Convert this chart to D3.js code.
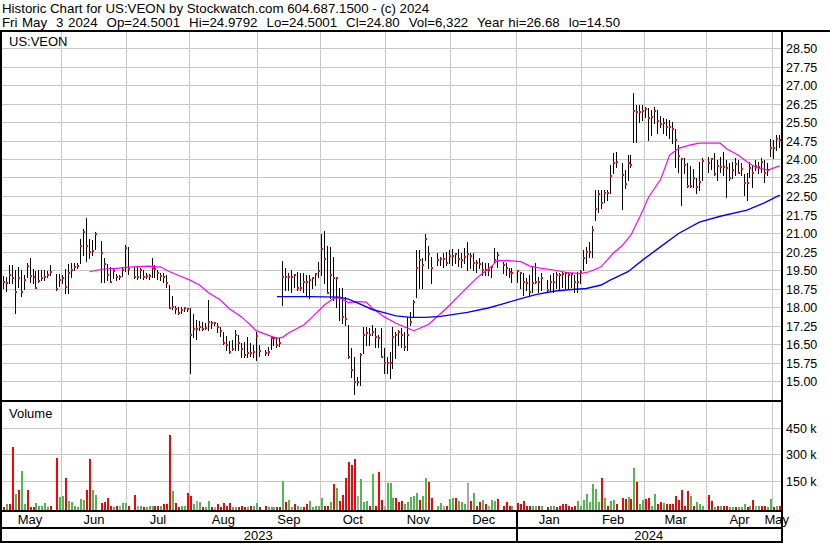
<!DOCTYPE html>
<html><head><meta charset="utf-8">
<script src="https://cdn.jsdelivr.net/npm/d3@7"></script>
<style>
html,body{margin:0;padding:0;background:#fff;}
svg{display:block;font-family:"Liberation Sans",Arial,sans-serif;}
</style></head><body>
<svg id="chart" width="830" height="543"></svg>
<script>
// ---------------- DATA ----------------
const HEADER1 = "Historic Chart for US:VEON by Stockwatch.com 604.687.1500 - (c) 2024";
const HEADER2 = "Fri May  3 2024  Op=24.5001  Hi=24.9792  Lo=24.5001  Cl=24.80  Vol=6,322  Year hi=26.68  lo=14.50";
const SYMBOL = "US:VEON";
const START = "2023-05-03", END = "2024-05-03";
const HOLIDAYS = ["2023-05-29","2023-06-19","2023-07-04","2023-09-04","2023-11-23","2023-12-25","2024-01-01","2024-01-15","2024-02-19","2024-03-29"];
const MONTH_NAMES = ["Jan","Feb","Mar","Apr","May","Jun","Jul","Aug","Sep","Oct","Nov","Dec"];
const PRICE_TICKS = ["15.00","15.75","16.50","17.25","18.00","18.75","19.50","20.25","21.00","21.75","22.50","23.25","24.00","24.75","25.50","26.25","27.00","27.75","28.50"];
const VOL_TICKS = [150, 300, 450];            // thousands
const VOL_TICK_LABELS = ["150 k","300 k","450 k"];

const HIGH = [
 19.30,19.28,19.25,19.72,19.72,19.52,19.66,19.52,19.32,19.79,20.01,19.57,19.48,19.52,19.52,19.52,19.49,19.71,19.36,19.36,
 19.32,19.56,19.75,19.79,19.79,19.82,20.78,21.18,21.61,20.78,20.74,21.05,20.71,20.00,19.75,19.66,19.59,19.36,19.32,19.66,20.53,
 20.44,19.66,19.66,19.59,19.52,19.39,19.36,20.00,19.72,19.52,19.39,19.39,19.30,18.90,18.45,18.07,18.03,18.03,18.00,17.99,
 17.97,17.74,17.49,17.47,17.43,17.36,18.30,17.47,17.43,17.36,17.22,17.02,16.84,16.64,16.68,17.09,16.88,16.55,16.61,16.79,16.55,16.48,17.00,
 16.50,16.28,16.41,16.85,16.80,16.80,16.75,19.90,19.59,19.40,19.52,19.32,19.45,19.39,19.40,19.30,19.30,19.25,19.38,19.86,
 21.00,21.10,20.50,20.47,20.06,19.25,18.78,18.78,18.44,17.29,16.34,16.01,15.20,16.14,17.22,17.20,17.16,17.29,17.16,16.88,17.16,16.34,
 16.01,16.21,17.22,17.02,17.09,17.16,17.02,17.63,17.83,18.30,20.33,20.33,20.00,21.00,20.50,20.06,20.20,20.06,20.20,20.26,20.33,
 20.36,20.20,20.36,20.20,20.40,20.67,20.20,20.20,19.93,19.99,19.86,19.79,19.79,19.70,20.40,20.26,19.86,19.79,19.59,19.59,
 19.52,19.45,19.39,19.18,19.32,19.65,19.79,19.25,19.39,19.12,19.32,19.39,19.45,19.39,19.45,19.45,19.41,19.40,19.32,19.45,19.52,
 20.33,20.47,20.67,21.30,22.76,22.76,22.76,22.76,22.76,23.78,24.25,24.32,23.85,23.57,24.18,24.18,26.68,26.21,26.21,26.21,
 26.14,26.07,26.00,26.14,26.00,25.76,25.67,25.63,25.60,25.53,25.22,24.59,24.05,24.05,23.85,23.74,23.60,23.24,23.91,24.05,
 24.12,24.05,24.25,23.98,24.12,24.32,23.98,23.85,23.91,24.05,23.98,23.85,23.40,23.44,23.91,23.78,23.98,23.91,24.05,23.98,23.85,24.82,
 24.79,24.98,24.98
];
const LOW = [
 18.90,18.78,18.68,19.01,19.01,17.79,18.82,18.48,18.74,19.25,19.05,19.01,18.78,19.02,19.12,19.12,19.22,19.32,18.71,18.87,
 18.98,18.60,18.60,19.25,19.52,19.59,19.82,20.13,19.89,20.00,20.13,20.39,19.02,19.05,19.12,19.05,19.18,19.12,19.14,19.28,19.49,
 19.36,19.18,19.16,19.21,19.16,19.18,19.17,19.25,19.25,19.14,19.12,19.05,18.85,17.96,17.94,17.79,17.72,17.76,17.85,17.85,
 15.33,16.82,16.71,17.09,17.09,17.12,17.09,17.16,17.29,17.02,16.84,16.52,16.28,16.14,16.28,16.28,16.28,16.01,16.01,16.01,16.03,16.01,15.87,
 16.03,16.08,16.08,16.30,16.50,16.40,16.45,18.10,18.71,18.71,18.64,18.84,18.71,18.71,18.64,18.50,18.40,18.78,18.90,19.25,
 19.32,19.00,18.57,18.37,18.30,18.03,17.49,17.36,17.29,15.94,15.20,14.50,14.86,14.86,16.14,16.48,16.48,16.88,16.41,16.41,16.01,15.33,
 15.33,15.13,15.53,15.94,16.48,16.41,16.28,16.28,17.30,17.63,18.44,18.78,18.78,19.93,19.59,19.00,19.72,19.72,19.65,19.72,19.79,
 19.72,19.79,19.68,19.65,19.79,19.52,19.59,19.52,19.45,19.59,19.32,19.32,19.32,19.25,19.79,19.65,19.38,19.32,19.25,19.05,
 19.05,18.78,18.51,18.71,18.51,18.64,19.00,18.64,18.71,18.64,18.71,18.64,18.78,18.71,18.84,18.78,18.74,18.84,18.64,18.64,18.98,
 19.52,19.79,20.06,20.06,21.55,21.89,22.02,22.29,22.36,22.63,23.44,23.71,21.98,22.83,23.17,23.71,24.72,24.72,25.53,25.60,
 25.74,24.79,24.99,25.47,25.06,25.33,25.06,24.99,24.86,24.66,23.71,23.51,22.16,23.44,22.90,22.90,22.90,22.63,22.77,23.17,
 23.50,23.61,23.37,23.17,23.51,23.37,22.50,23.17,23.24,23.37,23.44,23.37,22.56,22.36,23.30,22.90,23.58,23.44,23.51,23.10,23.37,24.14,
 24.07,24.38,24.50
];
const CLOSE = [
 19.10,19.05,19.01,19.32,19.21,18.64,19.21,18.64,19.12,19.68,19.28,19.22,18.80,19.09,19.21,19.25,19.32,19.44,18.75,19.12,
 19.21,18.85,19.41,19.52,19.66,19.68,20.51,21.07,20.51,20.26,20.30,20.99,20.22,19.75,19.33,19.05,19.49,19.25,19.25,19.52,20.43,
 19.55,19.25,19.25,19.52,19.25,19.29,19.29,19.61,19.55,19.39,19.28,19.25,19.00,17.99,18.03,17.93,17.76,17.90,17.96,17.93,
 16.88,17.13,17.13,17.20,17.13,17.15,17.43,17.39,17.39,17.22,17.05,16.57,16.50,16.21,16.33,16.88,16.57,16.30,16.07,16.17,16.17,16.21,16.84,
 16.25,16.17,16.21,16.75,16.75,16.48,16.57,19.25,19.25,19.25,19.25,19.32,18.78,18.80,19.02,19.05,19.11,19.18,19.34,19.49,
 20.36,19.97,18.60,19.32,19.18,19.18,18.40,17.60,17.53,16.01,15.47,14.99,14.99,16.07,16.88,16.98,16.88,17.00,16.79,16.75,16.01,15.74,
 15.74,15.74,16.82,16.88,17.02,16.88,16.41,16.88,17.43,18.24,19.59,19.92,19.72,20.78,20.15,19.61,19.92,19.95,19.97,19.82,20.09,
 20.09,20.15,19.95,19.92,20.06,20.15,20.09,19.79,19.79,19.75,19.52,19.52,19.52,19.63,19.92,20.13,19.72,19.59,19.45,19.39,
 19.48,19.39,19.02,18.98,18.64,18.98,19.05,19.05,19.21,18.71,19.05,19.05,19.32,19.32,19.35,19.39,19.32,19.35,19.05,19.05,19.45,
 20.02,20.24,20.26,21.14,21.98,22.60,22.25,22.66,22.66,23.35,23.87,23.91,23.39,23.01,23.85,23.76,25.97,25.94,25.94,25.98,
 26.05,25.70,25.74,25.98,25.57,25.43,25.47,25.33,25.33,25.24,24.79,24.14,24.01,23.78,22.92,22.92,23.26,22.87,23.10,23.94,
 23.85,24.01,23.40,23.74,23.68,23.68,23.66,23.26,23.57,23.82,23.47,23.60,23.03,23.06,23.64,23.44,23.74,23.68,23.91,23.47,23.57,24.48,
 24.45,24.82,24.80
];
const VOLUME_K = [
 40,5,17,17,344,74,97,205,17,97,3,3,23,6,11,23,3,6,279,57,
 63,165,34,29,6,2,46,40,97,274,97,68,23,29,51,11,2,6,6,23,23,
 6,68,11,11,2,2,6,6,6,6,11,17,17,411,91,23,2,11,6,80,
 63,17,34,29,2,2,34,2,2,17,2,23,6,23,2,2,2,6,2,2,6,11,23,
 2,6,2,2,2,2,2,148,29,40,2,17,6,2,2,17,34,2,6,11,
 51,11,11,29,131,108,34,68,165,257,240,274,63,160,29,34,11,188,6,200,40,11,
 137,137,51,51,29,34,17,29,57,63,80,40,63,165,143,51,6,23,6,11,46,
 51,51,34,29,17,137,34,80,6,29,40,17,11,40,34,46,6,29,11,11,
 23,17,34,6,11,6,6,6,11,2,6,6,2,6,21,21,6,2,11,34,6,
 40,74,29,131,103,29,165,51,11,34,40,17,51,46,57,46,222,143,17,40,
 46,51,11,74,17,29,23,17,17,17,63,40,97,11,91,63,11,29,17,6,
 68,34,2,11,6,6,6,2,2,2,2,2,17,2,6,40,6,6,6,6,2,46,
 2,11,6
];
// volume bar colour: u = up (green), d = down (red), n = unchanged (grey)
const VOL_DIR = [
 "n d u d d u d u u d d d u u u u u d d u",
 "u d u u u u u u d d u u d d d d u d n u u",
 "d d n u d u u u d d u d d d u d d u u d",
 "d u n u d u u d n d d d d d u u d d d u d u u",
 "d d u u u d d u d u u d u n d d u u u u",
 "u d d u d u d d d d d d n u u u d u d d d n",
 "u u u d d d u u u u u d u u d d u u n d u",
 "u d u u u n d u d d u d n u u d d d d u",
 "d d d d d u u d u d u u d d d d d d d u u",
 "u u u u u u d u d u u d d d u d u d u u",
 "d d u u d d u d d d d d d d d u d u u u",
 "d d u d u d d u u d u u u d u d n u d d u u",
 "d u d"
].join(" ").split(" ");
// moving averages: [weekday index, value]
const MA30 = [[30,19.45],[34,19.55],[39,19.59],[43,19.64],[50,19.68],[54,19.64],[57,19.45],[60,19.30],[64,19.10],[67,18.91],[70,18.60],[74,18.30],[77,17.95],[81,17.63],[84,17.30],[86,17.06],[90,16.88],[93,16.75],[95,16.80],[97,16.98],[102,17.29],[105,17.63],[109,18.10],[112,18.37],[114,18.40],[117,18.20],[120,18.24],[123,18.22],[125,17.98],[129,17.63],[133,17.36],[137,17.16],[139,17.06],[141,17.16],[144,17.32],[150,17.97],[155,18.58],[160,19.18],[165,19.65],[167,19.90],[171,19.90],[175,19.86],[178,19.68],[181,19.61],[186,19.52],[191,19.41],[195,19.37],[198,19.45],[202,19.65],[206,20.20],[209,20.50],[212,20.94],[215,21.68],[218,22.49],[222,23.20],[225,24.18],[228,24.45],[232,24.59],[235,24.66],[242,24.66],[244,24.45],[248,24.18],[251,23.91],[254,23.68],[258,23.57],[262,23.74]];
const MA90 = [[93,18.44],[104,18.44],[114,18.42],[117,18.34],[121,18.14],[125,17.92],[129,17.79],[133,17.66],[138,17.60],[143,17.60],[148,17.64],[157,17.80],[164,17.98],[169,18.15],[175,18.36],[180,18.52],[186,18.66],[191,18.72],[197,18.77],[202,18.91],[205,19.11],[211,19.45],[216,19.93],[222,20.47],[228,21.00],[235,21.46],[242,21.70],[251,21.95],[257,22.25],[262,22.56]];

// ---------------- CALENDAR (weekday slots, holidays left empty) ----------------
const weekdays = [];
{
  let d = new Date(START + "T00:00:00Z");
  const e = new Date(END + "T00:00:00Z");
  while (d <= e) {
    const wd = d.getUTCDay();
    if (wd > 0 && wd < 6) weekdays.push(d.toISOString().slice(0, 10));
    d = new Date(d.getTime() + 864e5);
  }
}
const hol = new Set(HOLIDAYS);
const trading = [];
weekdays.forEach((s, i) => { if (!hol.has(s)) trading.push({ date: s, slot: i }); });
const bars = trading.map((t, i) => ({
  slot: t.slot, date: t.date, hi: HIGH[i], lo: LOW[i], c: CLOSE[i], v: VOLUME_K[i], dir: VOL_DIR[i]
})).filter(b => b.hi !== undefined);

// ---------------- LAYOUT ----------------
const svg = d3.select("#chart");
const PLOT_L = -1.2, PLOT_R = 781.2;
const P_TOP = 32, P_BOT = 400, V_TOP = 402, V_BOT = 509.5;
const GRID = "#c8c8c8";

const x = d3.scaleBand().domain(d3.range(weekdays.length)).range([PLOT_L, PLOT_R]).padding(0);
const lineX = s => Math.floor(x(s) + 1.5) + 0.5;
const yP = d3.scaleLinear().domain([15, 28.5]).range([381.5, 48.5]);
const yV = d3.scaleLinear().domain([0, 450]).range([507.5, 428]);
const crisp = v => Math.floor(v) + 0.5;

svg.append("rect").attr("width", 830).attr("height", 543).attr("fill", "#fff");

// header
const hdr = svg.append("g").attr("font-size", 13.3).attr("fill", "#000");
hdr.append("text").attr("x", 2).attr("y", 13).attr("xml:space", "preserve").style("white-space", "pre").text(HEADER1);
hdr.append("text").attr("x", 2).attr("y", 27).attr("xml:space", "preserve").style("white-space", "pre")
  .attr("word-spacing", 0.8).text(HEADER2);

// month boundaries
const monthStarts = [];
bars.forEach((b, i) => {
  const m = b.date.slice(0, 7);
  if (i === 0 || m !== bars[i - 1].date.slice(0, 7)) monthStarts.push({ slot: b.slot, ym: m });
});
const boundaries = monthStarts.slice(1);

// ---- price panel grid ----
const gP = svg.append("g");
PRICE_TICKS.forEach(t => {
  gP.append("line").attr("x1", 0).attr("x2", PLOT_R).attr("y1", crisp(yP(+t))).attr("y2", crisp(yP(+t)))
    .attr("stroke", GRID).attr("stroke-width", 1);
});
boundaries.forEach(m => {
  const xx = crisp(x(m.slot));
  gP.append("line").attr("x1", xx).attr("x2", xx).attr("y1", P_TOP).attr("y2", P_BOT).attr("stroke", GRID);
  svg.append("line").attr("x1", xx).attr("x2", xx).attr("y1", V_TOP).attr("y2", V_BOT).attr("stroke", GRID);
});
// ---- volume grid ----
VOL_TICKS.forEach(t => {
  svg.append("line").attr("x1", 0).attr("x2", PLOT_R).attr("y1", crisp(yV(t))).attr("y2", crisp(yV(t)))
    .attr("stroke", GRID);
});

svg.append("text").attr("x", 9).attr("y", 46).attr("font-size", 13).attr("fill", "#000").text(SYMBOL);
svg.append("text").attr("x", 9).attr("y", 418).attr("font-size", 13).attr("fill", "#000").text("Volume");

// ---- price bars ----
const gB = svg.append("g").attr("shape-rendering", "crispEdges");
bars.forEach(b => {
  const lx = lineX(b.slot);
  const y1 = Math.round(yP(b.hi)), y2 = Math.round(yP(b.lo));
  gB.append("rect").attr("x", lx - 0.5).attr("y", y1).attr("width", 1).attr("height", Math.max(1, y2 - y1 + 1)).attr("fill", "#000");
});

// ---- moving averages ----
const maLine = d3.line().x(d => x(d[0]) + 1.5).y(d => yP(d[1]));
svg.append("path").attr("d", maLine(MA30)).attr("fill", "none").attr("stroke", "#ff00ff").attr("stroke-width", 1.2);
svg.append("path").attr("d", maLine(MA90)).attr("fill", "none").attr("stroke", "#0000ff").attr("stroke-width", 1.4);

// close marks
const gC = svg.append("g").attr("shape-rendering", "crispEdges");
bars.forEach(b => {
  const lx = lineX(b.slot);
  gC.append("rect").attr("x", lx - 0.5).attr("y", Math.round(yP(b.c)) - 1).attr("width", 2).attr("height", 2).attr("fill", "#ff0000");
});

// ---- volume bars ----
const volColor = { u: "#4cbb4c", d: "#ff0000", n: "#a8a8a8" };
const gV = svg.append("g").attr("shape-rendering", "crispEdges");
bars.forEach(b => {
  const top = Math.round(yV(b.v));
  gV.append("rect").attr("x", lineX(b.slot) - 0.5).attr("y", top).attr("width", 2)
    .attr("height", Math.max(1, 510 - top)).attr("fill", volColor[b.dir] || "#a8a8a8");
});

// ---- frame lines ----
const blk = (xx, yy, w, h) => svg.append("rect").attr("x", xx).attr("y", yy).attr("width", w).attr("height", h).attr("fill", "#000");
blk(0, 30, 830, 2);          // under header
blk(0, 400, 783, 2);         // price / volume separator
blk(0, 510, 783, 2);         // volume bottom
blk(0, 527, 783, 2);         // month / year separator
blk(0, 541, 783, 2);         // bottom
blk(0, 30, 2, 513);          // left
blk(781, 30, 2, 513);        // right
const janB = boundaries.find(m => m.ym.endsWith("-01"));
if (janB) blk(Math.floor(x(janB.slot)), 510, 2, 33);

// ---- axis labels ----
const gA = svg.append("g").attr("font-size", 12.5).attr("fill", "#000");
PRICE_TICKS.forEach(t => {
  gA.append("text").attr("x", 786).attr("y", yP(+t)).attr("dy", "0.36em").text(t);
});
VOL_TICKS.forEach((t, i) => {
  gA.append("text").attr("x", 786).attr("y", yV(t)).attr("dy", "0.36em").text(VOL_TICK_LABELS[i]);
});
// month labels
const gM = svg.append("g").attr("font-size", 13).attr("fill", "#000").attr("text-anchor", "middle");
monthStarts.forEach((m, i) => {
  const a = i === 0 ? PLOT_L : x(m.slot);
  const b = i < monthStarts.length - 1 ? x(monthStarts[i + 1].slot) : PLOT_R;
  gM.append("text").attr("x", (a + b) / 2).attr("y", 519).attr("dy", "0.36em").text(MONTH_NAMES[+m.ym.slice(5, 7) - 1]);
});
// year labels
const xJan = janB ? x(janB.slot) : 516;
gM.append("text").attr("x", (0 + xJan) / 2).attr("y", 535).attr("dy", "0.36em").text(START.slice(0, 4));
gM.append("text").attr("x", (xJan + PLOT_R) / 2).attr("y", 535).attr("dy", "0.36em").text(END.slice(0, 4));

// length sanity check
if (bars.length !== trading.length || CLOSE.length !== trading.length || VOL_DIR.length !== trading.length || LOW.length !== trading.length || VOLUME_K.length !== trading.length) {
  svg.append("text").attr("x", 300).attr("y", 120).attr("fill", "red").attr("font-size", 14)
    .text(`len mismatch t=${trading.length} h=${HIGH.length} l=${LOW.length} c=${CLOSE.length} v=${VOLUME_K.length} d=${VOL_DIR.length}`);
}
</script>
</body></html>
